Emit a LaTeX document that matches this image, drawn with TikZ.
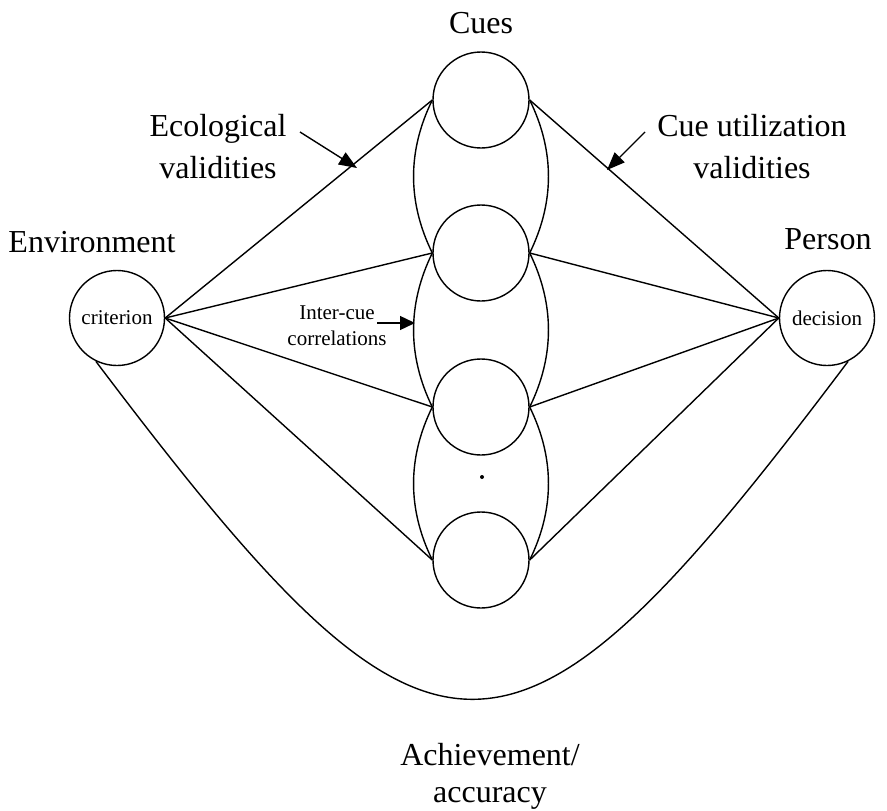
\documentclass[tikz,border=0pt]{standalone}
\usepackage{fontspec}
\setmainfont{Liberation Serif}
\usetikzlibrary{arrows.meta}
\begin{document}
\begin{tikzpicture}[x=1pt,y=-1pt,
  ln/.style={line width=1.4pt},
  cue/.style={circle,draw,line width=1.4pt,minimum size=96pt,inner sep=0pt},
  endc/.style={circle,draw,line width=1.4pt,minimum size=95pt,inner sep=0pt,font=\fontsize{21}{24}\selectfont},
  big/.style={font=\fontsize{32}{42}\selectfont,align=center,inner sep=0pt},
  small/.style={font=\fontsize{21}{26}\selectfont,align=center,inner sep=0pt},
  bigarrow/.style={line width=1.4pt,-{Triangle[length=18pt,width=14pt]}},
  smallarrow/.style={line width=1.4pt,-{Triangle[length=15pt,width=14pt]}}
]
\useasboundingbox (0,0) rectangle (887,811);
% cue circles
\node[cue] (c1) at (481,100) {};
\node[cue] (c2) at (481,253) {};
\node[cue] (c3) at (481,407) {};
\node[cue] (c4) at (481,560) {};
% criterion and decision
\node[endc] (crit) at (117,318) {criterion};
\node[endc] (dec) at (827,318) {decision};
% lens lines
\foreach \c in {c1,c2,c3,c4}{
  \draw[ln] (crit.east) -- (\c.west);
  \draw[ln] (\c.east) -- (dec.west);
}
% inter-cue curves
\draw[ln] (c1.west) .. controls +(-25,51) and +(-25,-51) .. (c2.west);
\draw[ln] (c2.west) .. controls +(-25,51) and +(-25,-51) .. (c3.west);
\draw[ln] (c3.west) .. controls +(-25,51) and +(-25,-51) .. (c4.west);
\draw[ln] (c1.east) .. controls +(25,51) and +(25,-51) .. (c2.east);
\draw[ln] (c2.east) .. controls +(25,51) and +(25,-51) .. (c3.east);
\draw[ln] (c3.east) .. controls +(25,51) and +(25,-51) .. (c4.east);
% dot
\node[circle,fill,inner sep=0pt,minimum size=4pt] (dot) at (482,477) {};
% achievement curve
\draw[ln] (crit.-116) .. controls (436,812) and (509,812) .. (dec.-64);
% labels
\node[big,anchor=base] (cues) at (481,33) {Cues};
\node[big,anchor=base] (env) at (92,252) {Environment};
\node[big,anchor=base] (pers) at (828,249) {Person};
\node[big,anchor=base] (eco) at (218,178) {Ecological\\validities};
\node[big,anchor=base] (cu) at (752,178) {Cue utilization\\validities};
\node[big,anchor=base,font=\fontsize{32}{37}\selectfont] (ach) at (490,802) {Achievement/\\accuracy};
\node[small,anchor=base] (ic) at (337,345) {Inter-cue\\correlations};
% arrows
\coordinate (ecoS) at (300,132);
\coordinate (ecoT) at (357,168);
\coordinate (cuS) at (645,132);
\coordinate (cuT) at (607,170);
\coordinate (icS) at (377,323);
\coordinate (icT) at (415,323);
\draw[bigarrow] (ecoS) -- (ecoT);
\draw[bigarrow] (cuS) -- (cuT);
\draw[smallarrow] (icS) -- (icT);
\end{tikzpicture}
\end{document}
